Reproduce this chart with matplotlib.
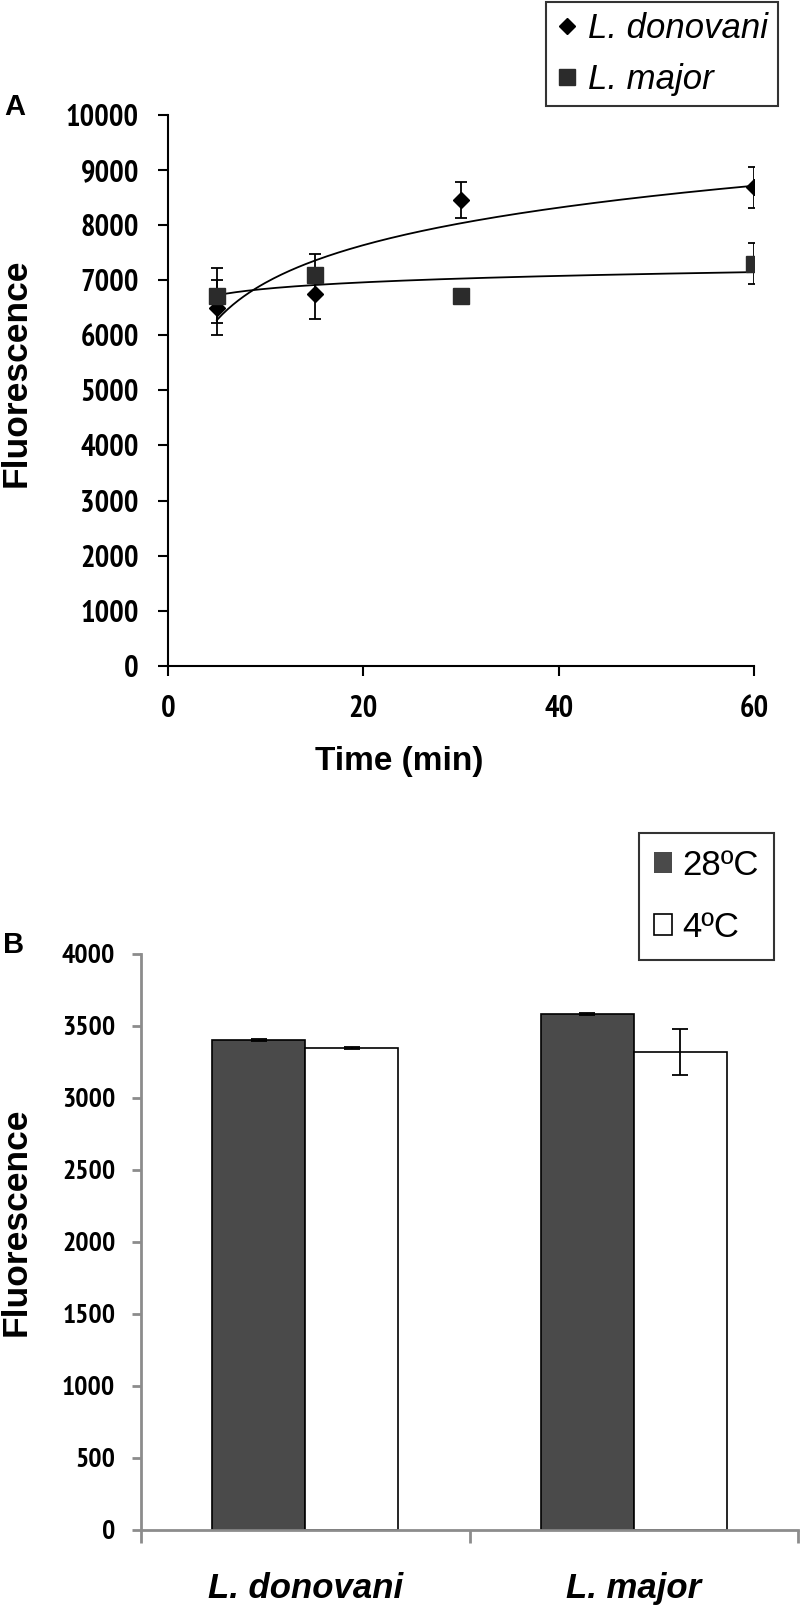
import numpy as np
import matplotlib
matplotlib.use("Agg")
import matplotlib.pyplot as plt
import matplotlib.font_manager as fm
from matplotlib.patches import Patch
from matplotlib.lines import Line2D

# panel A data
time_min = [5, 15, 30, 60]
don_vals = [6500, 6745, 8455, 8685]
don_err = [500, 440, 330, 380]
maj_vals = [6720, 7090, 6709, 7303]
maj_err = [500, 380, 0, 375]

# panel B data
species = ["L. donovani", "L. major"]
temp_labels = ["28ºC", "4ºC"]
b_28 = [3403, 3585]
b_28_err = [8, 8]
b_4 = [3349, 3321]
b_4_err = [8, 160]

ARIAL = ["Liberation Sans", "DejaVu Sans"]

# the tick labels use a narrow bold face; look for one, else shrink Arial bold
narrow_path = None
for f in fm.fontManager.ttflist:
    p = f.fname.lower()
    if "narrow" in p and "bold" in p and "italic" not in p:
        narrow_path = f.fname
        break


def tick_font(size):
    if narrow_path:
        return fm.FontProperties(fname=narrow_path, size=size)
    return fm.FontProperties(family=ARIAL, weight="bold", size=size * 0.84)


fig = plt.figure(figsize=(8, 16.05), dpi=100)

# ---- Panel A ----
ax = fig.add_axes([0.21, 0.5852, 0.7325, 0.3431])
t = np.array(time_min, dtype=float)
ax.errorbar(time_min, maj_vals, yerr=maj_err, fmt="none", ecolor="black",
            elinewidth=1.3, capsize=4, capthick=1.3, zorder=2)
ax.errorbar(time_min, don_vals, yerr=don_err, fmt="none", ecolor="black",
            elinewidth=1.3, capsize=4, capthick=1.3, zorder=2)

# logarithmic trendlines
xs = np.linspace(5, 60, 200)
a1, b1 = np.polyfit(np.log(t), don_vals, 1)
a2, b2 = np.polyfit(np.log(t), maj_vals, 1)
ax.plot(xs, a1 * np.log(xs) + b1, color="black", lw=1.3, zorder=3)
ax.plot(xs, a2 * np.log(xs) + b2, color="black", lw=1.3, zorder=3)

ax.plot(time_min, don_vals, "D", color="black", ms=8.5, zorder=4)
ax.plot(time_min, maj_vals, "s", color="#2b2b2b", ms=12, zorder=5)

ax.set_xlim(0, 60)
ax.set_ylim(0, 10000)
ax.set_xticks([0, 20, 40, 60])
ax.set_yticks(np.arange(0, 10001, 1000))
for s in ["top", "right"]:
    ax.spines[s].set_visible(False)
for s in ["left", "bottom"]:
    ax.spines[s].set_linewidth(1.5)
ax.tick_params(direction="out", length=7, width=1.5, pad=14)
for lab in ax.get_xticklabels() + ax.get_yticklabels():
    lab.set_fontproperties(tick_font(22))

fig.text(399 / 800, 1 - 762 / 1605, "Time (min)", ha="center", va="center",
         family=ARIAL, fontweight="bold", fontsize=24)
fig.text(16 / 800, 1 - 373 / 1605, "Fluorescence", ha="center", va="center",
         rotation=90, family=ARIAL, fontweight="bold", fontsize=25.5)
fig.text(15 / 800, 1 - 107 / 1605, "A", ha="center", va="center",
         family=ARIAL, fontweight="bold", fontsize=21)

handles_a = [Line2D([], [], ls="none", marker="D", color="black", ms=8),
             Line2D([], [], ls="none", marker="s", color="#2b2b2b", ms=11)]
leg_a = fig.legend(handles_a, ["L. donovani", "L. major"], loc="upper right",
                   bbox_to_anchor=(778 / 800, 1 - 2 / 1605), frameon=True,
                   fancybox=False, handlelength=0.6, handletextpad=0.3,
                   borderpad=0.3, labelspacing=0.5, borderaxespad=0,
                   prop={"family": ARIAL, "style": "italic", "size": 25})
leg_a.get_frame().set_edgecolor("black")
leg_a.get_frame().set_linewidth(1.5)

# ---- Panel B ----
bx = fig.add_axes([0.17625, 0.04673, 0.82125, 0.35888])
x = np.arange(len(species))
w = 0.283
bx.bar(x - w / 2, b_28, w, yerr=b_28_err, color="#4a4a4a", edgecolor="black",
       linewidth=1.2, capsize=6, error_kw={"elinewidth": 1.3, "capthick": 1.3})
bx.bar(x + w / 2, b_4, w, yerr=b_4_err, color="white", edgecolor="black",
       linewidth=1.2, capsize=6, error_kw={"elinewidth": 1.3, "capthick": 1.3})
bx.set_xlim(-0.5, 1.5)
bx.set_ylim(0, 4000)
bx.set_yticks(np.arange(0, 4001, 500))
bx.set_xticks([-0.5, 0.5, 1.5])
bx.set_xticklabels([])
bx.set_xticks(x, minor=True)
bx.set_xticklabels(species, minor=True)
for s in ["top", "right"]:
    bx.spines[s].set_visible(False)
for s in ["left", "bottom"]:
    bx.spines[s].set_linewidth(2)
    bx.spines[s].set_color("#8c8c8c")
bx.tick_params(axis="y", direction="out", length=6.5, width=2, color="#8c8c8c", pad=12)
bx.tick_params(axis="x", which="major", direction="out", length=9, width=2, color="#8c8c8c")
bx.tick_params(axis="x", which="minor", length=0, pad=30)
for lab in bx.get_yticklabels():
    lab.set_fontproperties(tick_font(20))
for lab in bx.get_xticklabels(minor=True):
    lab.set_family(ARIAL)
    lab.set_fontweight("bold")
    lab.set_style("italic")
    lab.set_fontsize(25)

fig.text(16 / 800, 1 - 1222 / 1605, "Fluorescence", ha="center", va="center",
         rotation=90, family=ARIAL, fontweight="bold", fontsize=25.5)
fig.text(14 / 800, 1 - 945 / 1605, "B", ha="center", va="center",
         family=ARIAL, fontweight="bold", fontsize=21)

handles_b = [Patch(facecolor="#4a4a4a", edgecolor="none"),
             Patch(facecolor="white", edgecolor="black", linewidth=1.2)]
leg_b = fig.legend(handles_b, temp_labels, loc="upper right",
                   bbox_to_anchor=(774 / 800, 1 - 833 / 1605), frameon=True,
                   fancybox=False, handlelength=0.5, handleheight=0.55,
                   handletextpad=0.3, borderpad=0.45, labelspacing=0.85,
                   borderaxespad=0,
                   prop={"family": ARIAL, "size": 25})
leg_b.get_frame().set_edgecolor("black")
leg_b.get_frame().set_linewidth(1.5)

fig.savefig("out.png", dpi=100)
